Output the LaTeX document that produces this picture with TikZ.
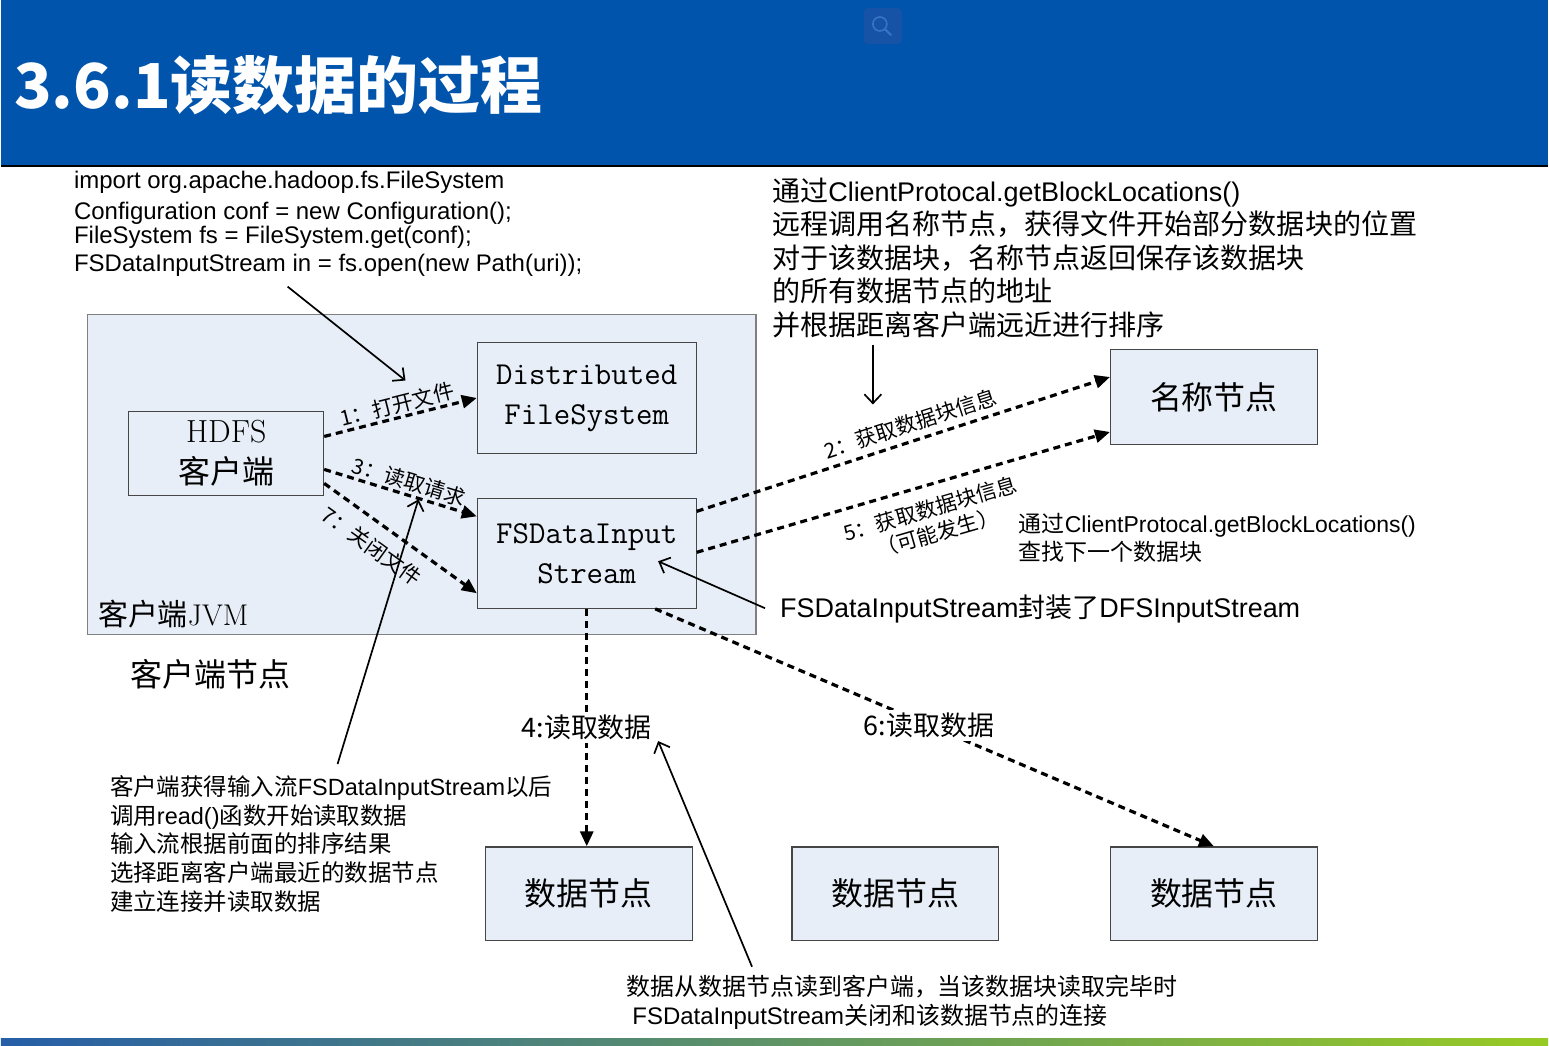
\documentclass[tikz,border=0pt]{standalone}
\usepackage{fontspec}
\setsansfont{Liberation Sans}
\newfontfamily\cjk{Noto Sans CJK SC}
\newfontfamily\cjkl[Scale=1.04]{Noto Sans CJK SC}
\usetikzlibrary{arrows.meta}
\definecolor{bandeau}{RGB}{0,84,172}
\definecolor{icone}{RGB}{22,82,166}
\definecolor{loupe}{RGB}{52,118,196}
\definecolor{fondbloc}{RGB}{231,238,247}
\definecolor{bordbloc}{RGB}{70,70,70}
\definecolor{barreg}{RGB}{38,94,168}
\definecolor{barred}{RGB}{152,202,36}
\newcommand{\fz}[2]{\fontsize{#1}{#2}\selectfont}

\begin{document}
\begin{tikzpicture}[x=1pt, y=-1pt,
  bloc/.style={draw=bordbloc, fill=fondbloc, line width=1.2pt, inner sep=0pt},
  flux/.style={line width=3.2pt, dash pattern=on 7pt off 5pt, -{Triangle[length=15pt,width=13pt]}},
  renvoi/.style={line width=1.7pt, -{Straight Barb[length=9pt,width=17pt]}},
  etiq/.style={font=\cjk\fz{21}{25}, inner sep=2pt},
  texte/.style={align=left, inner sep=0pt, anchor=west}]
  \fill[white] (0,0) rectangle (1549,1047);
  % Bandeau du titre
  \fill[bandeau] (0,0) rectangle (1549,165);
  \draw[line width=2pt] (0,166) -- (1549,166);
  \fill[icone, rounded corners=4pt] (864,8) rectangle (902,44);
  \draw[loupe, line width=1.6pt] (880,24) circle (7);
  \draw[loupe, line width=2pt, line cap=round] (885,29) -- (891,35);
  \node[anchor=west, text=white, font=\cjk\bfseries\fz{62}{70}, inner sep=0pt] (titre) at (13,85) {3.6.1读数据的过程};
  \shade[left color=barreg, right color=barred] (0,1040) rectangle (1549,1047);

  % Noeud client
  \node[bloc, draw=gray, minimum width=669pt, minimum height=320pt] (jvm) at (421.5,475) {};
  \node[anchor=west, font=\fz{30}{36}, inner sep=0pt] (jvmlbl) at (97,615) {{\cjk 客户端}JVM};
  \node[font=\cjk\fz{32}{38}] (noeudclient) at (209.5,675) {客户端节点};
  \node[bloc, minimum width=195pt, minimum height=84pt, align=center, font=\fz{32}{41}] (client) at (225.5,454) {HDFS\\{\cjk 客户端}};
  \node[bloc, minimum width=219pt, minimum height=111pt, align=center, font=\ttfamily\fz{32}{40}] (dfs) at (586.5,398.5) {Distributed\\FileSystem};
  \node[bloc, minimum width=219pt, minimum height=110pt, align=center, font=\ttfamily\fz{32}{40}] (fsdis) at (586.5,554) {FSDataInput\\Stream};

  % Noeud de noms et noeuds de donnees
  \node[bloc, minimum width=207pt, minimum height=95pt, font=\cjk\fz{32}{38}] (nn) at (1214.5,397.5) {名称节点};
  \node[bloc, minimum width=207pt, minimum height=94pt, font=\cjk\fz{32}{38}] (dn1) at (588.5,895) {数据节点};
  \node[bloc, minimum width=207pt, minimum height=94pt, font=\cjk\fz{32}{38}] (dn2) at (895.5,895) {数据节点};
  \node[bloc, minimum width=207pt, minimum height=94pt, font=\cjk\fz{32}{38}] (dn3) at (1214.5,895) {数据节点};

  % Etapes (pointilles)
  \draw[flux] ([yshift=17pt]client.east) -- (dfs.west) node[etiq, midway, above, sloped] {1：打开文件};
  \draw[flux] ([yshift=-16pt]client.east) -- ([yshift=37pt]fsdis.west) node[etiq, pos=0.53, above, sloped] {3：读取请求};
  \draw[flux] ([yshift=-30pt]client.east) -- ([yshift=-40pt]fsdis.west) node[etiq, pos=0.4, below=10pt, sloped] {7：关闭文件};
  \draw[flux] ([yshift=42pt]fsdis.east) -- ([yshift=20pt]nn.west) node[etiq, pos=0.53, above=4pt, sloped] {2：获取数据块信息};
  \draw[flux] ([yshift=1pt]fsdis.east) -- ([yshift=-35pt]nn.west) node[etiq, pos=0.55, below=10pt, sloped, align=center] {5：获取数据块信息\\（可能发生）};
  \draw[flux] (fsdis.south) -- (fsdis.south |- dn1.north) node[font=\cjk\fz{27}{32}, pos=0.5, fill=white, inner sep=3pt] {4:读取数据};
  \draw[flux] ([xshift=68.5pt]fsdis.south) -- (dn3.north) node[font=\cjk\fz{27}{32}, pos=0.49, fill=white, inner sep=3pt] {6:读取数据};

  % Textes explicatifs
  \node[texte, font=\sffamily\fz{24}{28}] (code) at (73,224) {import org.apache.hadoop.fs.FileSystem\\[3pt] Configuration conf = new Configuration();\\[-4pt] FileSystem fs = FileSystem.get(conf);\\ FSDataInputStream in = fs.open(new Path(uri));};
  \node[texte, font=\sffamily\fz{27}{33.5}] (rpc) at (772,258) {{\cjkl 通过}ClientProtocal.getBlockLocations()\\ {\cjkl 远程调用名称节点，获得文件开始部分数据块的位置}\\ {\cjkl 对于该数据块，名称节点返回保存该数据块}\\ {\cjkl 的所有数据节点的地址}\\ {\cjkl 并根据距离客户端远近进行排序}};
  \node[texte, font=\sffamily\fz{23}{28}] (suivant) at (1019,539) {{\cjk 通过}ClientProtocal.getBlockLocations()\\ {\cjk 查找下一个数据块}};
  \node[texte, font=\sffamily\fz{27}{32}] (enveloppe) at (780,610) {FSDataInputStream{\cjk 封装了}DFSInputStream};
  \node[texte, font=\sffamily\fz{23.5}{28.8}] (lecture) at (109,845) {{\cjk 客户端获得输入流}FSDataInputStream{\cjk 以后}\\ {\cjk 调用}read(){\cjk 函数开始读取数据}\\ {\cjk 输入流根据前面的排序结果}\\ {\cjk 选择距离客户端最近的数据节点}\\ {\cjk 建立连接并读取数据}};
  \node[texte, font=\sffamily\fz{24}{29}] (fermeture) at (626,1004) {{\cjk 数据从数据节点读到客户端，当该数据块读取完毕时}\\ \hspace*{6pt}FSDataInputStream{\cjk 关闭和该数据节点的连接}};

  % Renvois (fleches pleines)
  \coordinate (r1a) at (287,287);  \coordinate (r1b) at (405,381);
  \coordinate (r2a) at (873,345);  \coordinate (r2b) at (873,405);
  \coordinate (r3a) at (765,609);  \coordinate (r3b) at (658,562);
  \coordinate (r4a) at (337,765);  \coordinate (r4b) at (418,500);
  \coordinate (r5a) at (752,968);  \coordinate (r5b) at (658,742);
  \draw[renvoi] (r1a) -- (r1b);
  \draw[renvoi] (r2a) -- (r2b);
  \draw[renvoi] (r3a) -- (r3b);
  \draw[renvoi] (r4a) -- (r4b);
  \draw[renvoi] (r5a) -- (r5b);
\end{tikzpicture}
\end{document}
